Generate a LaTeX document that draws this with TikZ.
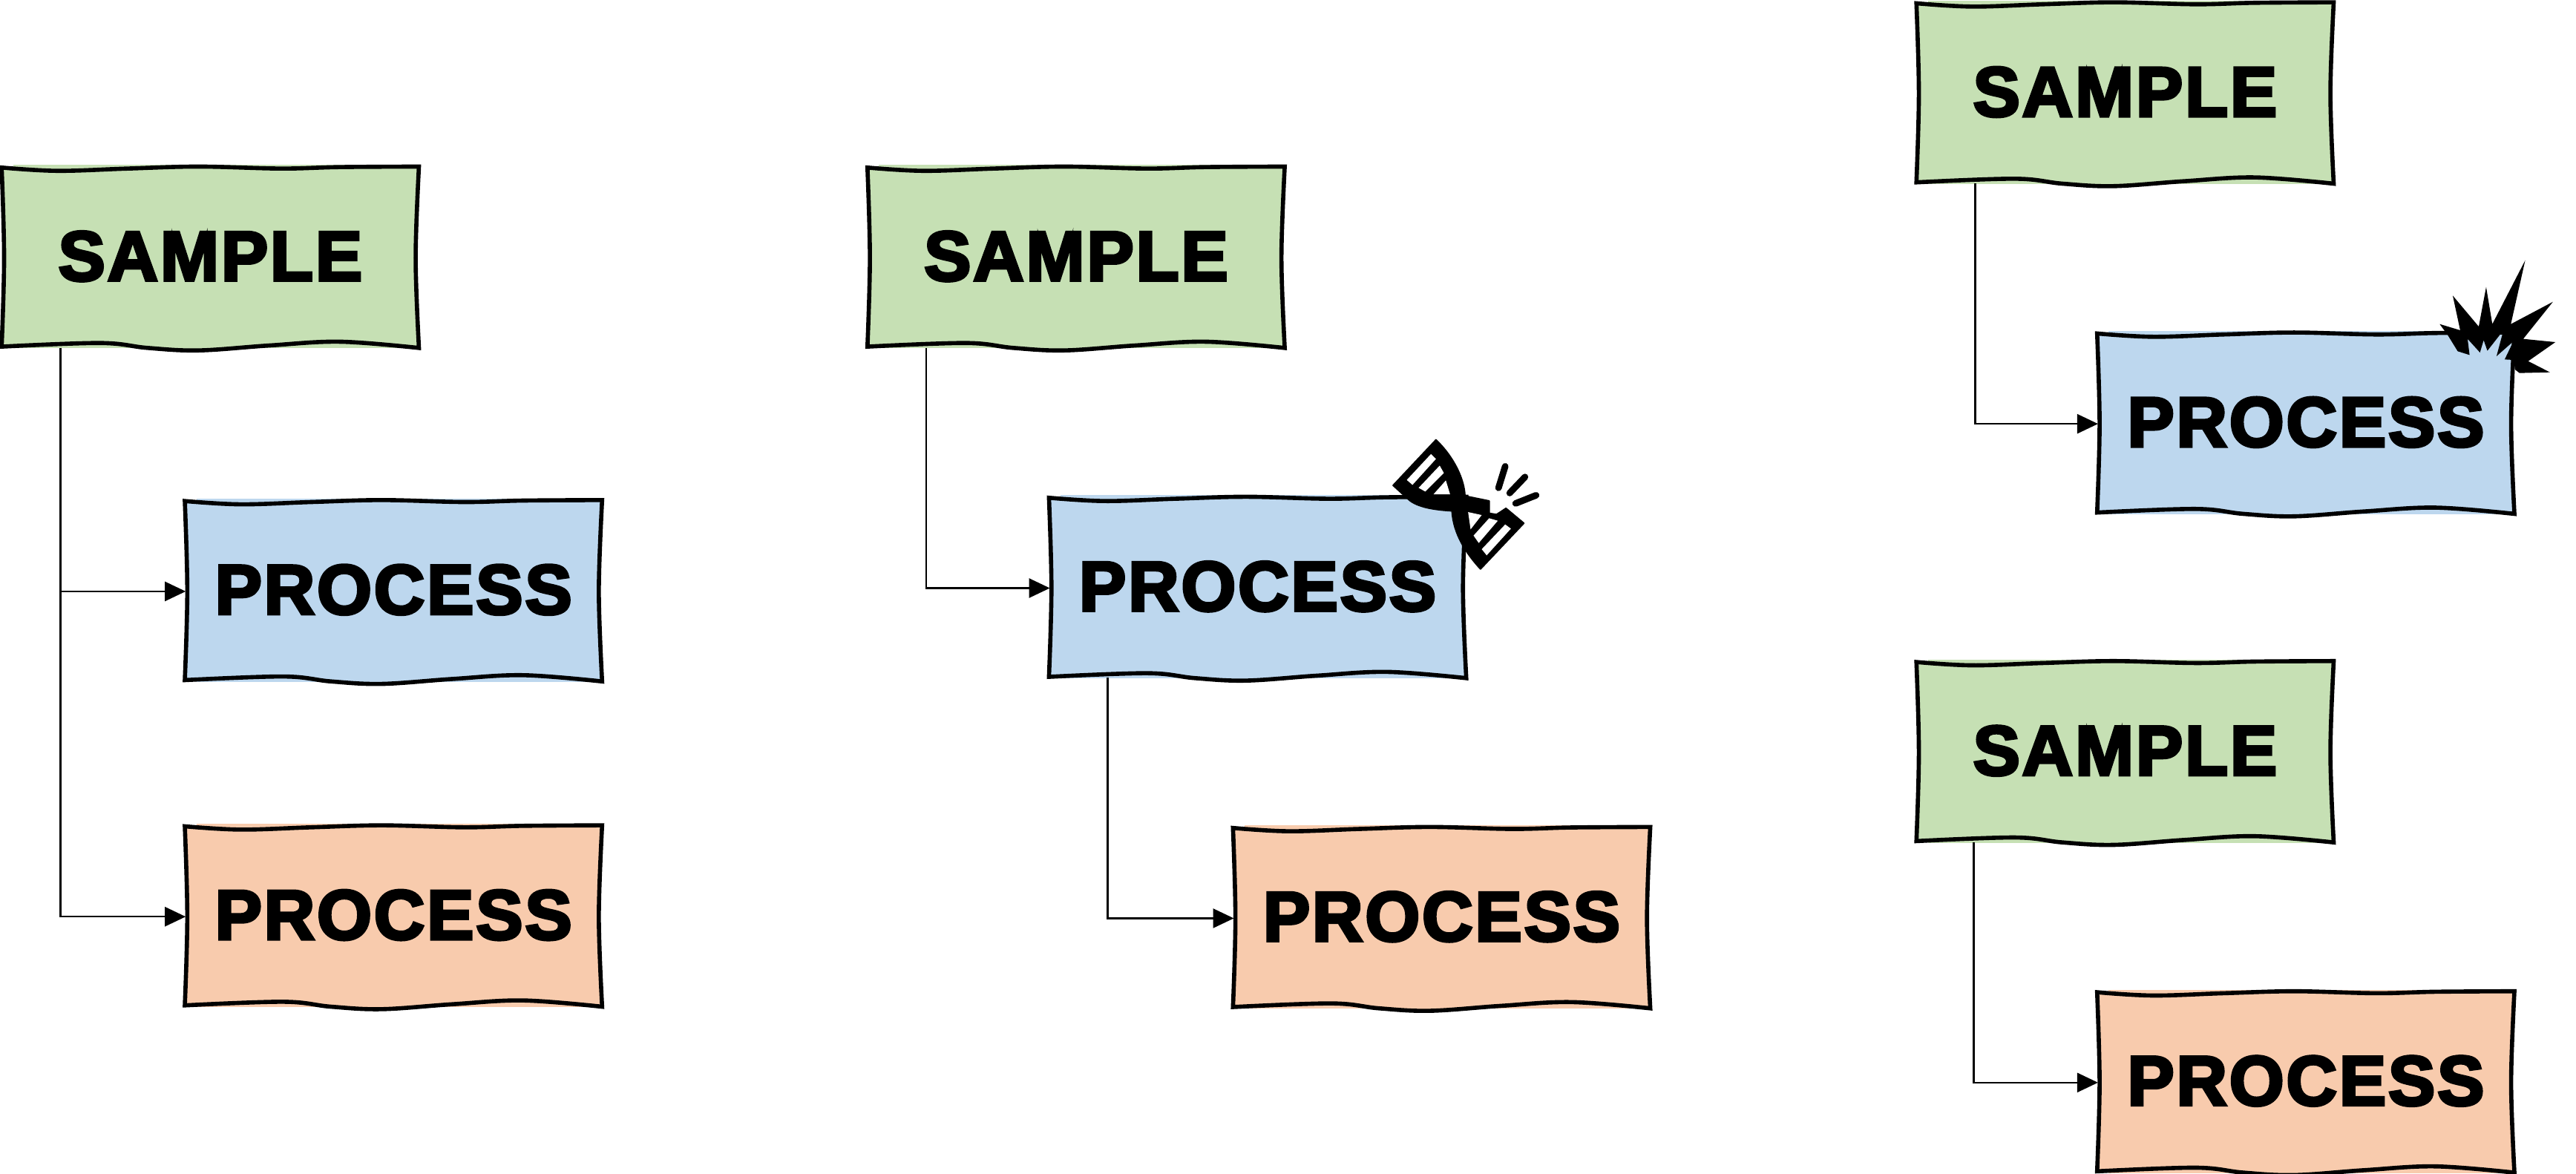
\documentclass[tikz,border=0pt]{standalone}
\usepackage{fontspec}
\usepackage{tikz}
\usetikzlibrary{arrows.meta, backgrounds}

\newfontfamily\labelfont{Liberation Sans}[UprightFont=* Bold, FakeBold=4, LetterSpace=3]
\definecolor{samplegreen}{HTML}{C6E0B4}
\definecolor{processblue}{HTML}{BDD7EE}
\definecolor{processorange}{HTML}{F8CBAD}

% hand-drawn outline around (0,0)
\newcommand{\wobblepath}{(-127,-55)
  -- plot[smooth,tension=.6] coordinates {(-127,-55) (-93,-53) (-50,-54.4) (-7,-55.6) (43,-54.4) (79,-55.3) (127,-55.6)}
  -- plot[smooth,tension=.6] coordinates {(127,-55.6) (125,0) (127,54.8)}
  -- plot[smooth,tension=.6] coordinates {(127,54.8) (79,51) (36,53.3) (-7,56.3) (-38,54.8) (-67,51.8) (-127,54)}
  -- plot[smooth,tension=.6] coordinates {(-127,54) (-125.5,0) (-127,-55)} -- cycle}

\begin{document}
\begin{tikzpicture}[
    x=0.2214mm, y=-0.2214mm,
    every node/.style={inner sep=0pt, outer sep=0pt, text depth=1.5pt, minimum width=5.6cm, minimum height=2.42cm, font=\labelfont\fontsize{27}{27}\selectfont},
    sketch/.style={line width=1.6pt, line join=miter},
    arrow/.style={-{Triangle[length=2.8mm, width=2.6mm]}, line width=0.7pt}]

\useasboundingbox (0,0) rectangle (1568,714.65);

\node (sampleA) at (128,157) {SAMPLE};
\node (blueA) at (239.5,360) {PROCESS};
\node (orangeA) at (239.5,558) {PROCESS};

\node (sampleB) at (655,157) {SAMPLE};
\node (blueB) at (765.5,358) {PROCESS};
\node (orangeB) at (877.5,559) {PROCESS};

\node (sampleC) at (1293.5,57) {SAMPLE};
\node (blueC) at (1403.5,258) {PROCESS};

\node (sampleD) at (1293.5,458) {SAMPLE};
\node (orangeD) at (1403.5,659) {PROCESS};

% boxes sit behind the labels
\foreach \name/\col in {sampleA/samplegreen, blueA/processblue, orangeA/processorange,
    sampleB/samplegreen, blueB/processblue, orangeB/processorange,
    sampleC/samplegreen, blueC/processblue, sampleD/samplegreen, orangeD/processorange} {
  \begin{scope}[on background layer, shift={(\name.center)}]
    \fill[\col] (-120,-56.5) rectangle (120,55);
    \draw[sketch, fill=\col] \wobblepath;
  \end{scope}
}

\draw[arrow] ([xshift=0.78cm]sampleA.south west) |- (blueA.west);
\draw[arrow] ([xshift=0.78cm]sampleA.south west) |- (orangeA.west);
\draw[arrow] ([xshift=0.78cm]sampleB.south west) |- (blueB.west);
\draw[arrow] ([xshift=0.78cm]blueB.south west) |- (orangeB.west);
\draw[arrow] ([xshift=0.78cm]sampleC.south west) |- (blueC.west);
\draw[arrow] ([xshift=0.76cm]sampleD.south west) |- (orangeD.west);

% cut DNA strand
\begin{scope}[shift={(813.1,248.5)}, x=0.03333mm, y=-0.03333mm]
  \draw[line width=0.6pt, fill=black, line join=round]
    (405,128) .. controls (480,200) and (520,290) .. (522,355)
    -- (620,375) -- (620,425) -- (650,430) -- (688,405) -- (760,465) -- (585,650)
    .. controls (530,590) and (475,510) .. (470,415)
    .. controls (380,410) and (320,395) .. (290,365) -- (232,312) -- cycle;
  \fill[white] (385,185) -- (405,205) -- (310,310) -- (287,290) -- cycle;
  \fill[white] (420,232) -- (437,262) -- (362,337) -- (335,322) -- cycle;
  \fill[white] (445,292) -- (462,348) -- (395,348) -- cycle;
  \fill[white] (535,420) -- (590,432) -- (545,490) -- cycle;
  \fill[white] (620,445) -- (655,455) -- (578,545) -- (557,515) -- cycle;
  \fill[white] (685,470) -- (708,487) -- (610,595) -- (590,570) -- cycle;
  \draw[line width=2.5pt, line cap=round] (685,235) -- (658,322);
  \draw[line width=2.5pt, line cap=round] (765,278) -- (703,343);
  \draw[line width=2.5pt, line cap=round] (810,352) -- (727,385);
\end{scope}

% blast on the box corner
\begin{scope}[shift={(1459.1,149.1)}, x=0.03333mm, y=-0.03333mm]
  \fill (172,320) -- (255,345) -- (225,205) -- (330,330) -- (360,170) -- (385,320)
    -- (518,62) -- (460,320) -- (630,230) -- (510,380) -- (640,393) -- (530,470)
    -- (618,515) -- (495,518) -- (478,505) -- (470,465) -- (435,463) -- (470,390)
    -- (402,450) -- (430,345) -- (365,428) -- (350,385) -- (335,435) -- (285,380)
    -- (293,445) -- (245,430) -- (205,365) -- cycle;
\end{scope}

\end{tikzpicture}
\end{document}
